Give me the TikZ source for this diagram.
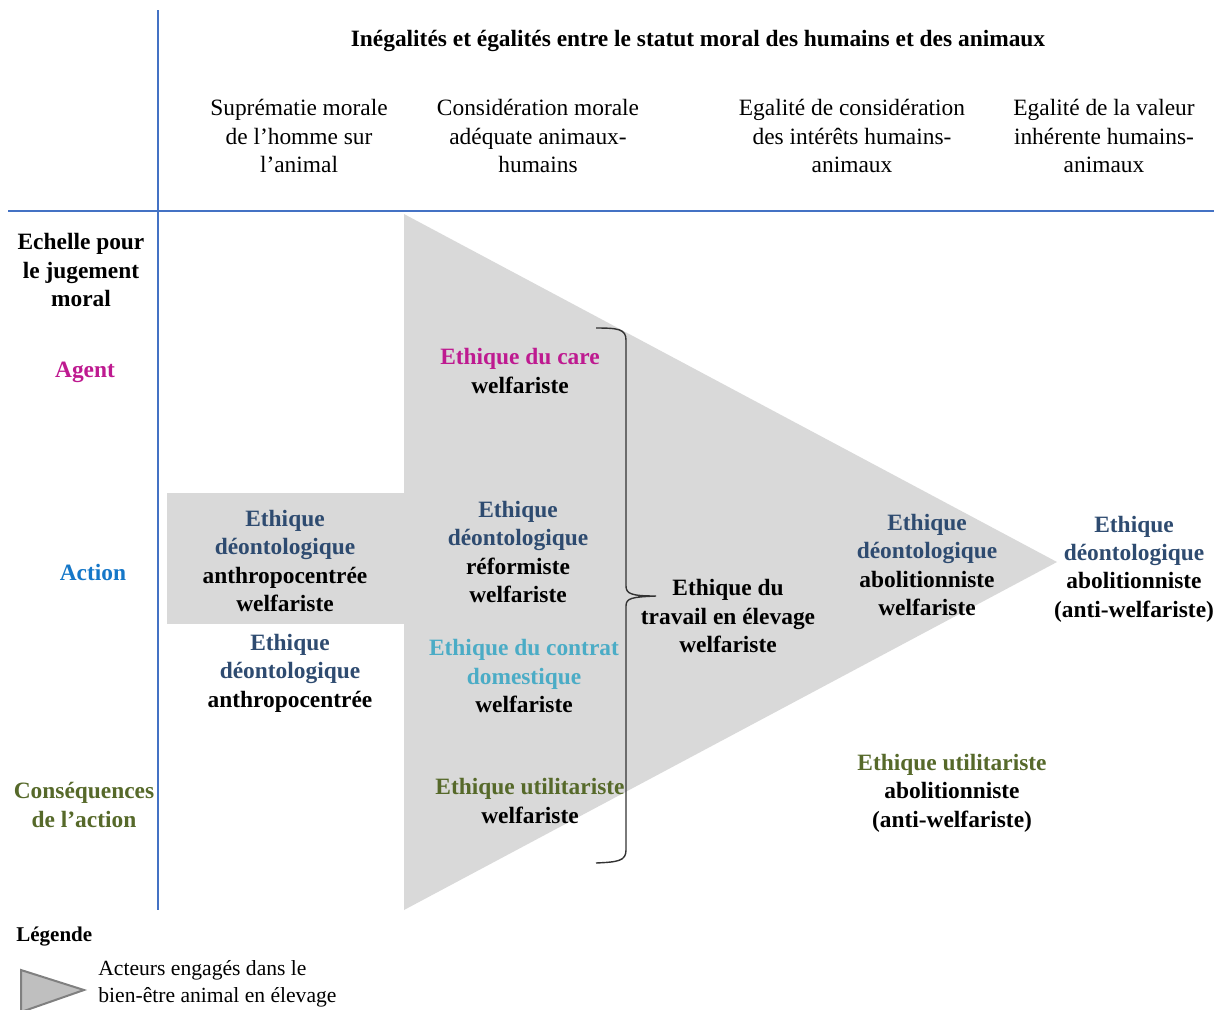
\documentclass[tikz,border=0pt]{standalone}
\usepackage{fontspec}
\setmainfont{Liberation Serif}
\definecolor{axisblue}{HTML}{4472C4}
\definecolor{navy}{HTML}{2E4B70}
\definecolor{agentc}{HTML}{BE1A90}
\definecolor{actionc}{HTML}{1577C8}
\definecolor{olive}{HTML}{56692A}
\definecolor{tealc}{HTML}{4BACC6}
\definecolor{greyfill}{HTML}{D9D9D9}
\begin{document}
\begin{tikzpicture}[x=0.5pt,y=-0.5pt,
  txt/.style={align=center,inner sep=0pt,font=\fontsize{11.7}{14.2}\selectfont},
  btxt/.style={align=center,inner sep=0pt,font=\fontsize{11.7}{14.2}\selectfont\bfseries},
  axis/.style={draw=axisblue,line width=0.7pt}]
\useasboundingbox (0,0) rectangle (1222,1009);
% shaded arrow
\fill[greyfill] (167,493) rectangle (405,624);
\fill[greyfill] (404,214) -- (1057,562) -- (404,910) -- cycle;
% axes
\coordinate (vtop) at (158,10);
\coordinate (vbot) at (158,910);
\coordinate (hl) at (8,211);
\coordinate (hr) at (1214,211);
\draw[axis] (vtop) -- (vbot);
\draw[axis] (hl) -- (hr);
% brace
\draw[line width=0.7pt,black!80] (596,328) .. controls (618,328) and (626,329) .. (626,340)
  -- (626,586) .. controls (626,594) and (632,596) .. (656,596)
  .. controls (632,597) and (626,598) .. (626,606)
  -- (626,850) .. controls (626,861) and (618,862) .. (596,863);
% title and headers
\node[btxt] (title) at (698,41) {Inégalités et égalités entre le statut moral des humains et des animaux};
\node[txt] (h1) at (299,136) {Suprématie morale\\de l’homme sur\\l’animal};
\node[txt] (h2) at (538,136) {Considération morale\\adéquate animaux-\\humains};
\node[txt] (h3) at (852,136) {Egalité de considération\\des intérêts humains-\\animaux};
\node[txt] (h4) at (1104,136) {Egalité de la valeur\\inhérente humains-\\animaux};
% left column
\node[btxt] (echelle) at (81,270) {Echelle pour\\le jugement\\moral};
\node[btxt,text=agentc] (agent) at (85,372) {Agent};
\node[btxt,text=actionc] (action) at (93,572) {Action};
\node[btxt,text=olive] (cons) at (84,805) {Conséquences\\de l’action};
% cells
\node[btxt] (e1) at (285,561) {\textcolor{navy}{Ethique}\\\textcolor{navy}{déontologique}\\anthropocentrée\\welfariste};
\node[btxt] (e2) at (290,673) {\textcolor{navy}{Ethique}\\\textcolor{navy}{déontologique}\\anthropocentrée};
\node[btxt] (e3) at (520,371) {\textcolor{agentc}{Ethique du care}\\welfariste};
\node[btxt] (e4) at (518,552) {\textcolor{navy}{Ethique}\\\textcolor{navy}{déontologique}\\réformiste\\welfariste};
\node[btxt] (e5) at (524,676) {\textcolor{tealc}{Ethique du contrat}\\\textcolor{tealc}{domestique}\\welfariste};
\node[btxt] (e6) at (530,801) {\textcolor{olive}{Ethique utilitariste}\\welfariste};
\node[btxt] (e7) at (728,616) {Ethique du\\travail en élevage\\welfariste};
\node[btxt] (e8) at (927,565) {\textcolor{navy}{Ethique}\\\textcolor{navy}{déontologique}\\abolitionniste\\welfariste};
\node[btxt] (e9) at (1134,569) {\textcolor{navy}{Ethique}\\\textcolor{navy}{déontologique}\\abolitionniste\\(anti-welfariste)};
\node[btxt] (e10) at (952,793) {\textcolor{olive}{Ethique utilitariste}\\abolitionniste\\(anti-welfariste)};
% legend
\node[btxt,anchor=west,font=\fontsize{10.5}{13}\selectfont\bfseries] (leg) at (16,937) {Légende};
\draw[fill=black!25,draw=black!50,line width=1pt] (21,970) -- (84,990) -- (21,1012) -- cycle;
\node[txt,anchor=west,align=left,font=\fontsize{10.8}{13.5}\selectfont] (legtxt) at (98,984) {Acteurs engagés dans le\\bien-être animal en élevage};
\end{tikzpicture}
\end{document}
